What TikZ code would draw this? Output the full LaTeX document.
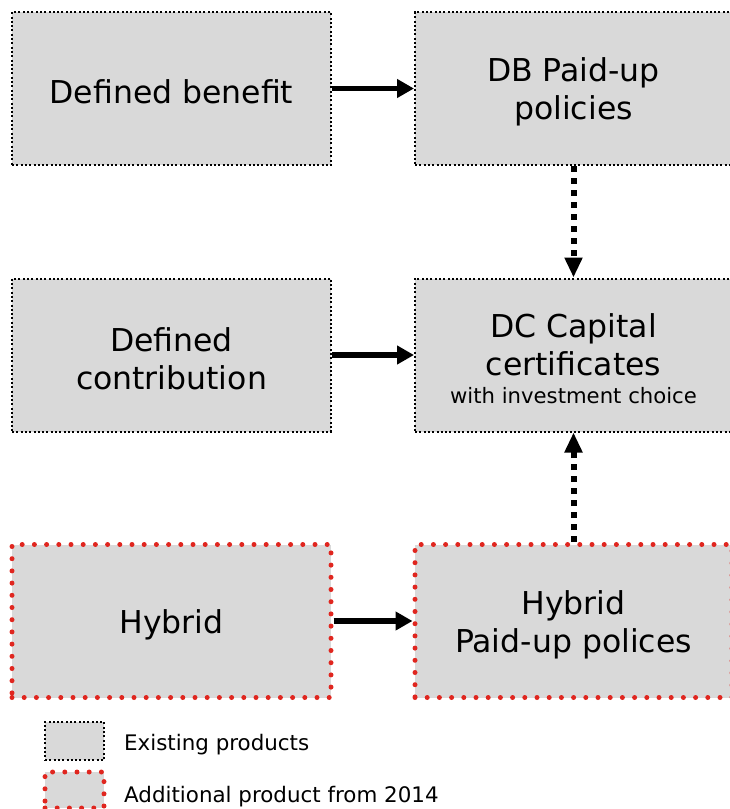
\documentclass[tikz,border=0pt]{standalone}
\usepackage{fontspec}
\setmainfont{DejaVu Sans}
\usetikzlibrary{arrows.meta}
\definecolor{boxgray}{HTML}{D9D9D9}
\definecolor{dotred}{HTML}{E0261F}
\begin{document}
\begin{tikzpicture}[x=1pt,y=-1pt,
  box/.style={fill=boxgray,minimum height=153pt,inner sep=0pt},
  boxtext/.style={align=center,inner sep=0pt,yshift=-3.5pt,font=\fontsize{31.5}{38}\selectfont},
  leftbox/.style={box,minimum width=319pt},
  rightbox/.style={box,minimum width=317pt},
  exist/.style={draw=black,line width=2pt,dash pattern=on 2pt off 2.3pt},
  newp/.style={draw=dotred,line width=5pt,line cap=round,dash pattern=on 0pt off 12.2pt},
  solidarrow/.style={line width=5.5pt,-{Triangle[length=17pt,width=18pt]}},
  dasharrow/.style={line width=6pt,dash pattern=on 6pt off 6pt,-{Triangle[length=20pt,width=17pt]}},
  legbox/.style={fill=boxgray,minimum width=59pt,inner sep=0pt},
  legtext/.style={anchor=west,inner sep=0pt,font=\fontsize{21.4}{24}\selectfont}
]
\useasboundingbox (0,0) rectangle (729,809);
% boxes
\node[leftbox,exist] (db) at (171.5,88.5) {};
\node[rightbox,exist] (dbp) at (573.5,88.5) {};
\node[leftbox,exist] (dc) at (171.5,355) {};
\node[rightbox,exist] (dcc) at (573.5,355) {};
\node[leftbox,newp] (hy) at (171.5,621) {};
\node[rightbox,newp] (hyp) at (573.5,621) {};
% texts
\node[boxtext] (dbt) at (db.center) {Defined benefit};
\node[boxtext] (dbpt) at (dbp.center) {DB Paid-up\\policies};
\node[boxtext] (dct) at (dc.center) {Defined\\contribution};
\node[boxtext] (dcct) at (dcc.center) {DC Capital\\certificates\\[-10pt]{\fontsize{21.2}{24}\selectfont with investment choice}};
\node[boxtext] (hyt) at (hy.center) {Hybrid};
\node[boxtext] (hypt) at (hyp.center) {Hybrid\\Paid-up polices};
% arrows
\draw[solidarrow] (db.east) -- (dbp.west);
\draw[solidarrow] (dc.east) -- (dcc.west);
\draw[solidarrow] (hy.east) -- (hyp.west);
\draw[dasharrow] (dbp.south -| 573.5,0) -- (dcc.north -| 573.5,0);
\draw[dasharrow] (hyp.north -| 573.5,0) -- (dcc.south -| 573.5,0);
% legend
\node[legbox,exist,minimum height=38pt] (l1) at (74.5,741) {};
\node[legbox,newp,minimum height=36pt] (l2) at (74.5,790) {};
\node[legtext] (t1) at (124,745) {Existing products};
\node[legtext] (t2) at (124,797) {Additional product from 2014};
\end{tikzpicture}
\end{document}
